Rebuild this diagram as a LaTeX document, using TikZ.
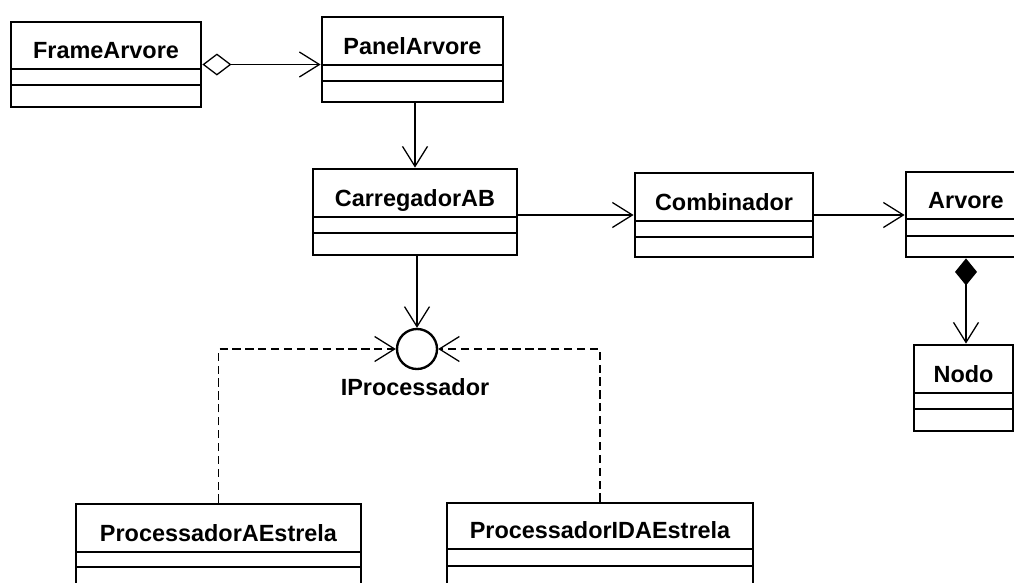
\documentclass[tikz,border=0pt]{standalone}
\usepackage{fontspec}
\setmainfont{Liberation Sans}
\usepackage{tikz}
\usetikzlibrary{arrows.meta,fit,calc}

% class box: name, text, corners, the two compartment lines
\newcommand{\umlclass}[8]{%
  \draw[compline] (#3,#7) -- (#5,#7);
  \draw[compline] (#3,#8) -- (#5,#8);
  \node[classname, anchor=base] (#1-name) at ({(#3+#5)/2}, #7-11) {#2};
  \node[classbox, fit={(#3,#4) (#5,#6)}] (#1) {};
}

\tikzset{
  classbox/.style={draw, line width=2.4pt, inner sep=0pt},
  compline/.style={line width=1.3pt},
  classname/.style={font=\bfseries\fontsize{20}{24}\selectfont, inner sep=0pt},
  assoc/.style={line width=1.1pt, -{Straight Barb[length=6mm, width=7.5mm, line width=1.1pt]}},
  realize/.style={assoc, dash pattern=on 7pt off 4pt},
}

\begin{document}
\begin{tikzpicture}[x=0.03cm, y=-0.03cm]
        \clip (0,0) rectangle (1014,582);
        \fill[white] (0,0) rectangle (1014,582);
        %
        \umlclass{frame}{FrameArvore}{11}{22}{201}{107}{69}{85}
        \umlclass{panel}{PanelArvore}{322}{17}{503}{102}{65}{81}
        \umlclass{carreg}{CarregadorAB}{313}{169}{517}{255}{217}{233}
        \umlclass{comb}{Combinador}{635}{173}{813}{257}{221}{237}
        \umlclass{arvore}{Arvore}{906}{172}{1026}{257}{219}{236}
        \umlclass{nodo}{Nodo}{914}{345}{1013}{431}{393}{409}
        \umlclass{pae}{ProcessadorAEstrela}{76}{504}{361}{620}{552}{567}
        \umlclass{pide}{ProcessadorIDAEstrela}{447}{503}{753}{620}{549}{566}
        %
        \node[circle, draw, line width=2pt, minimum size=1.2cm, inner sep=0pt] (iproc) at (417,349) {};
        \node[classname, anchor=base] (iproc-name) at (415,395) {IProcessador};
        %
        \draw[assoc, {Diamond[open, length=8.7mm, width=6.6mm, line width=1.1pt]}-{Straight Barb[length=6mm, width=7.5mm, line width=1.1pt]}]
            (frame.east) -- (frame.east -| panel.west);
        \draw[assoc] (carreg.north |- panel.south) -- (carreg.north);
        \draw[assoc] (carreg.east |- comb.west) -- (comb.west);
        \draw[assoc] (comb.east) -- (arvore.west |- comb.east);
        \draw[assoc, {Diamond[length=8.1mm, width=6.6mm]}-{Straight Barb[length=6mm, width=7.5mm, line width=1.1pt]}]
            (arvore.south) -- (arvore.south |- nodo.north);
        \draw[assoc] (iproc.north |- carreg.south) -- (iproc.north);
        \draw[realize] (pae.north) |- (iproc.west);
        \draw[realize] (pide.north) |- (iproc.east);
        %
    \end{tikzpicture}
\end{document}
